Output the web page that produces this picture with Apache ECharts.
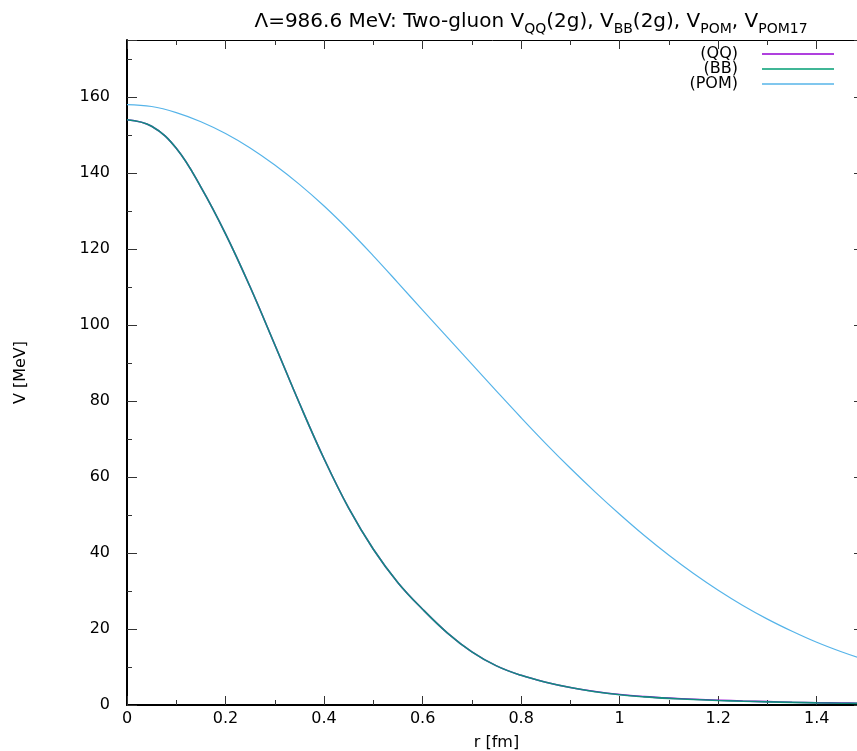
<!DOCTYPE html>
<html>
<head>
<meta charset="utf-8">
<script src="https://cdn.jsdelivr.net/npm/echarts@6/dist/echarts.min.js"></script>
<style>
  html, body { margin: 0; padding: 0; background: #fff; }
  #chart { width: 857px; height: 751px; }
</style>
</head>
<body>
<div id="chart"></div>
<script>
// r [fm]
const rValues = [0, 0.05, 0.1, 0.15, 0.2, 0.25, 0.3, 0.35, 0.4, 0.45, 0.5, 0.55, 0.6, 0.65, 0.7, 0.75,
  0.8, 0.85, 0.9, 0.95, 1.0, 1.05, 1.1, 1.15, 1.2, 1.25, 1.3, 1.35, 1.4, 1.45, 1.5];
// V [MeV]
const vQQ = [154, 152.3, 146.5, 136.3, 124.0, 110.0, 94.8, 79.4, 64.8, 51.8, 41.0, 32.2, 25.2, 19.0, 14.0, 10.3,
  7.8, 6.0, 4.6, 3.55, 2.75, 2.2, 1.8, 1.5, 1.26, 1.05, 0.88, 0.73, 0.61, 0.51, 0.43];
const vBB = [154, 152.3, 146.5, 136.3, 124.0, 110.0, 94.8, 79.4, 64.8, 51.8, 41.0, 32.2, 25.2, 19.0, 14.0, 10.3,
  7.8, 6.0, 4.6, 3.5, 2.7, 2.15, 1.75, 1.45, 1.2, 1.0, 0.82, 0.68, 0.56, 0.47, 0.4];
const vPOM = [158.0, 157.5, 155.9, 153.5, 150.4, 146.6, 142.1, 137.0, 131.3, 125.0, 118.2, 111.1, 103.9, 96.8, 89.7, 82.6,
  75.6, 68.8, 62.3, 56.1, 50.2, 44.6, 39.4, 34.6, 30.2, 26.2, 22.6, 19.4, 16.5, 14.0, 11.8];

const seriesNames = ['(QQ)', '(BB)', '(POM)'];
const seriesColors = ['#9400d3', '#009e73', '#56b4e9'];

const toPairs = vals => rValues.map((r, i) => [r, vals[i]]);

const font = 'DejaVu Sans, sans-serif';
const chart = echarts.init(document.getElementById('chart'));

const mkLegend = (name, top) => ({
  data: [name],
  top: top,
  right: 23,
  orient: 'vertical',
  align: 'right',
  icon: 'rect',
  itemWidth: 72,
  itemHeight: 1.5,
  itemGap: 0,
  padding: 0,
  selectedMode: false,
  textStyle: { fontFamily: font, fontSize: 16, color: '#000', padding: [0, 19, 0, 0] }
});

const tickStyle = { color: '#333', width: 1 };

chart.setOption({
  animation: false,
  backgroundColor: '#fff',
  title: {
    text: 'Λ=986.6 MeV: Two-gluon V{s|QQ}(2g), V{s|BB}(2g), V{s|POM}, V{s|POM17}',
    left: 526,
    textAlign: 'center',
    top: 3,
    textStyle: {
      fontFamily: font,
      fontSize: 20,
      fontWeight: 'normal',
      color: '#000',
      rich: {
        s: { fontFamily: font, fontSize: 14, color: '#000', padding: [14, 0, 0, 0] }
      }
    }
  },
  legend: [
    mkLegend(seriesNames[0], 46),
    mkLegend(seriesNames[1], 61),
    mkLegend(seriesNames[2], 76)
  ],
  grid: { left: 127, right: -9, top: 40, bottom: 46, containLabel: false, outerBoundsMode: 'none' },
  xAxis: [{
    type: 'value',
    min: 0,
    max: 1.5,
    interval: 0.2,
    name: 'r [fm]',
    nameLocation: 'middle',
    nameGap: 30,
    nameTextStyle: { fontFamily: font, fontSize: 16, color: '#000' },
    axisLine: { show: true, onZero: false, lineStyle: { color: '#000', width: 2 } },
    axisTick: { show: true, inside: true, length: 9, lineStyle: tickStyle },
    minorTick: { show: true, splitNumber: 2, length: 5, lineStyle: tickStyle },
    axisLabel: {
      fontFamily: font, fontSize: 16, color: '#000', margin: 6,
      formatter: v => (v > 1.45 ? '' : String(Math.round(v * 10) / 10))
    },
    splitLine: { show: false }
  }, {
    type: 'value',
    position: 'top',
    min: 0,
    max: 1.5,
    interval: 0.2,
    axisLine: { show: true, onZero: false, lineStyle: { color: '#000', width: 1 } },
    axisTick: { show: true, inside: true, length: 9, lineStyle: tickStyle },
    minorTick: { show: true, splitNumber: 2, length: 5, lineStyle: tickStyle },
    axisLabel: { show: false },
    splitLine: { show: false }
  }],
  yAxis: [{
    type: 'value',
    min: 0,
    max: 175,
    interval: 20,
    name: 'V [MeV]',
    nameLocation: 'middle',
    nameGap: 98,
    nameRotate: 90,
    nameTextStyle: { fontFamily: font, fontSize: 16, color: '#000' },
    axisLine: { show: true, onZero: false, lineStyle: { color: '#000', width: 2 } },
    axisTick: { show: true, inside: true, length: 10, lineStyle: tickStyle },
    minorTick: { show: true, splitNumber: 2, length: 5, lineStyle: tickStyle },
    axisLabel: { fontFamily: font, fontSize: 16, color: '#000', margin: 17, showMaxLabel: false },
    splitLine: { show: false }
  }, {
    type: 'value',
    position: 'right',
    min: 0,
    max: 175,
    interval: 20,
    axisLine: { show: true, onZero: false, lineStyle: { color: '#000', width: 1 } },
    axisTick: { show: true, inside: true, length: 12, lineStyle: tickStyle },
    minorTick: { show: true, splitNumber: 2, length: 6, lineStyle: tickStyle },
    axisLabel: { show: false },
    splitLine: { show: false }
  }],
  series: [{
    name: seriesNames[0],
    type: 'line',
    data: toPairs(vQQ),
    smooth: 0.4,
    symbol: 'none',
    color: seriesColors[0],
    lineStyle: { width: 1.6, color: seriesColors[0] }
  }, {
    name: seriesNames[1],
    type: 'line',
    data: toPairs(vBB),
    smooth: 0.4,
    symbol: 'none',
    color: seriesColors[1],
    lineStyle: { width: 1.6, color: seriesColors[1], opacity: 0.88 }
  }, {
    name: seriesNames[2],
    type: 'line',
    data: toPairs(vPOM),
    smooth: 0.4,
    symbol: 'none',
    color: seriesColors[2],
    lineStyle: { width: 1.2, color: seriesColors[2] }
  }]
});
</script>
</body>
</html>
